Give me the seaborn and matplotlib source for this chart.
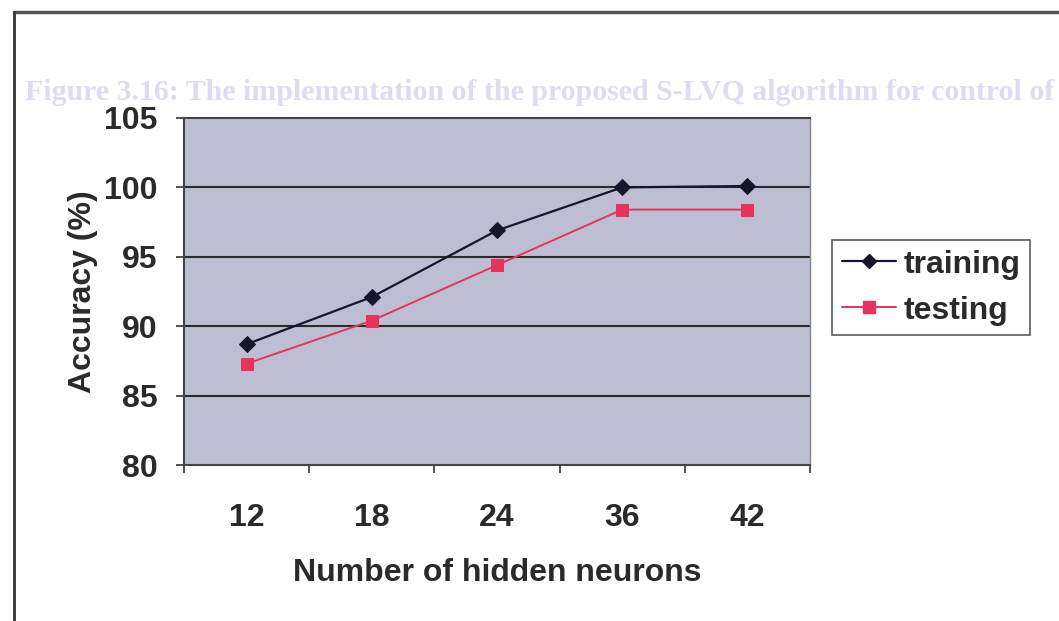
import matplotlib
matplotlib.use("Agg")
import matplotlib.pyplot as plt
from matplotlib.lines import Line2D
import seaborn as sns
import pandas as pd

# Data
neurons = ["12", "18", "24", "36", "42"]
training = [88.7, 92.1, 96.9, 100.0, 100.1]
testing = [87.3, 90.4, 94.4, 98.4, 98.4]
y_ticks = [80, 85, 90, 95, 100, 105]

sns.set_theme(style="white")
plt.rcParams["font.family"] = ["Liberation Sans", "DejaVu Sans"]

FS = 23
TXT = "#2A2A2A"

df = pd.DataFrame({
    "pos": list(range(len(neurons))) * 2,
    "acc": training + testing,
    "series": ["training"] * len(neurons) + ["testing"] * len(neurons),
})

fig = plt.figure(figsize=(10.59, 6.21), dpi=100, facecolor="white")

# Faint caption of the surrounding page, sitting behind the chart
fig.text(25 / 1059, 1 - 93 / 621,
         "Figure 3.16: The implementation of the proposed S-LVQ algorithm for control of",
         fontsize=21.5, fontweight="bold", family="Liberation Serif",
         color="#DDDDEF", va="center", ha="left", zorder=-5)

ax = fig.add_axes([0.1737, 0.2512, 0.5912, 0.5588])
ax.set_facecolor("#BEBED2")

train_col = "#15152E"
test_col = "#E5335E"

sns.lineplot(data=df[df.series == "training"], x="pos", y="acc", ax=ax,
             color=train_col, lw=1.6, marker="D", markersize=8,
             markeredgecolor=train_col, label="training")
sns.lineplot(data=df[df.series == "testing"], x="pos", y="acc", ax=ax,
             color=test_col, lw=1.4, marker="s", markersize=9,
             markeredgecolor=test_col, label="testing")

ax.set_xlim(-0.5, len(neurons) - 0.5)
ax.set_ylim(80, 105)
ax.set_yticks(y_ticks)
ax.set_yticklabels([str(t) for t in y_ticks], fontsize=FS, fontweight="bold",
                   color=TXT)
ax.set_xticks(range(len(neurons)))
ax.set_xticklabels(neurons, fontsize=FS, fontweight="bold", color=TXT)
ax.set_xticks([i - 0.5 for i in range(len(neurons) + 1)], minor=True)
ax.tick_params(axis="x", which="major", length=0, pad=27)
ax.tick_params(axis="x", which="minor", length=6, width=1.2, color="#333333",
               direction="out", bottom=True)
ax.tick_params(axis="y", which="major", length=5.5, width=1.2, color="#333333",
               direction="out", left=True, pad=13.5)

# Horizontal gridlines at every major value
for t in y_ticks[1:-1]:
    ax.axhline(t, color="#2B2B2B", lw=1.5, zorder=1)

for side, sp in ax.spines.items():
    sp.set_visible(True)
    sp.set_color("#444444")
    sp.set_linewidth(1.5)
ax.spines["right"].set_color("#888888")
ax.spines["right"].set_linewidth(1.0)

ax.set_xlabel("Number of hidden neurons", fontsize=FS, fontweight="bold",
              color=TXT, labelpad=18.5)
ax.set_ylabel("Accuracy (%)", fontsize=FS, fontweight="bold",
              color=TXT, labelpad=4.5)

ax.get_legend().remove()
handles = [
    Line2D([], [], color=train_col, lw=1.6, marker="D", markersize=7),
    Line2D([], [], color=test_col, lw=1.4, marker="s", markersize=8),
]
leg = fig.legend(handles, ["training", "testing"], loc="upper left",
                 bbox_to_anchor=(832 / 1059, 1 - 240 / 621),
                 prop={"size": FS, "weight": "bold"}, frameon=True,
                 fancybox=False, handlelength=1.7, handletextpad=0.25,
                 borderpad=0.3, labelspacing=0.5, borderaxespad=0.0)
leg.get_frame().set_edgecolor("#333333")
leg.get_frame().set_linewidth(1.2)
for txt in leg.get_texts():
    txt.set_color(TXT)

# Chart frame
fig.add_artist(Line2D([14 / 1059, 1.0], [1 - 12 / 621, 1 - 12 / 621],
                      transform=fig.transFigure, color="#555555", lw=2.5))
fig.add_artist(Line2D([14 / 1059, 14 / 1059], [0, 1 - 12 / 621],
                      transform=fig.transFigure, color="#333333", lw=2.0))

fig.savefig("out.png", dpi=100, facecolor="white")
